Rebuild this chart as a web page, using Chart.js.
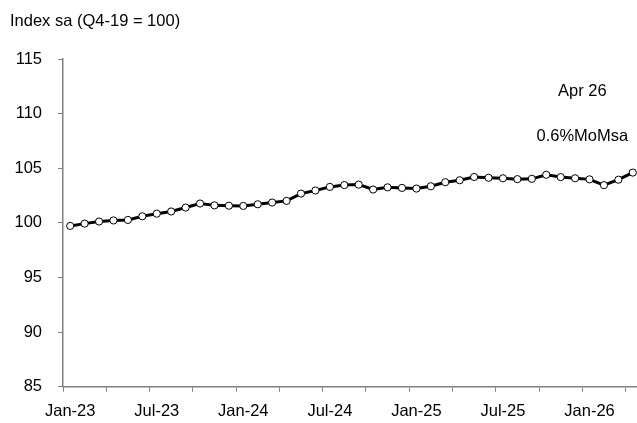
<!DOCTYPE html>
<html>
<head>
<meta charset="utf-8">
<script src="https://cdn.jsdelivr.net/npm/chart.js@4.4.0/dist/chart.umd.min.js"></script>
<style>
  html, body { margin: 0; padding: 0; background: #fff; overflow: hidden; width: 637px; height: 423px; }
  #wrap { position: relative; width: 645px; height: 423px; }
</style>
</head>
<body>
<div id="wrap"><canvas id="c" width="645" height="423"></canvas></div>
<script>
const categories = [
  'Jan-23','Feb-23','Mar-23','Apr-23','May-23','Jun-23','Jul-23','Aug-23','Sep-23','Oct-23','Nov-23','Dec-23',
  'Jan-24','Feb-24','Mar-24','Apr-24','May-24','Jun-24','Jul-24','Aug-24','Sep-24','Oct-24','Nov-24','Dec-24',
  'Jan-25','Feb-25','Mar-25','Apr-25','May-25','Jun-25','Jul-25','Aug-25','Sep-25','Oct-25','Nov-25','Dec-25',
  'Jan-26','Feb-26','Mar-26','Apr-26'
];
const indexValues = [
  99.72, 99.93, 100.12, 100.22, 100.27, 100.60, 100.84, 101.04, 101.40, 101.77, 101.60, 101.57,
  101.55, 101.70, 101.86, 102.01, 102.68, 102.96, 103.29, 103.46, 103.50, 103.05, 103.25, 103.20,
  103.14, 103.35, 103.72, 103.90, 104.20, 104.13, 104.08, 104.00, 104.03, 104.40, 104.19, 104.08,
  103.98, 103.45, 103.95, 104.60
];
const yTicks = [85, 90, 95, 100, 105, 110, 115];
const titleText = 'Index sa (Q4-19 = 100)';
const noteLines = ['Apr 26', '0.6%MoMsa'];
const noteAnchor = { index: 35.5, values: [112.0, 107.9] };

const FONT = '"Liberation Sans", Arial, Helvetica, sans-serif';
const AXIS = '#808080';

const textPlugin = {
  id: 'texts',
  afterDraw(chart) {
    const ctx = chart.ctx;
    const xs = chart.scales.x, ys = chart.scales.y;
    ctx.save();
    ctx.fillStyle = '#000';
    ctx.font = '16.5px ' + FONT;
    ctx.textBaseline = 'middle';
    ctx.textAlign = 'left';
    ctx.fillText(titleText, 10, 21);
    ctx.textAlign = 'center';
    const x = (xs.getPixelForValue(Math.floor(noteAnchor.index)) + xs.getPixelForValue(Math.ceil(noteAnchor.index))) / 2;
    noteLines.forEach((t, i) => {
      ctx.fillText(t, x, ys.getPixelForValue(noteAnchor.values[i]));
    });
    ctx.restore();
  }
};

new Chart(document.getElementById('c'), {
  type: 'line',
  data: {
    labels: categories,
    datasets: [{
      data: indexValues,
      borderColor: '#000',
      borderWidth: 3,
      pointRadius: 3.6,
      pointBorderWidth: 1,
      pointBackgroundColor: '#fff',
      pointBorderColor: '#000',
      tension: 0
    }]
  },
  options: {
    responsive: false,
    animation: false,
    devicePixelRatio: 1,
    layout: { padding: { top: 59, right: 5, left: 0, bottom: 0 } },
    plugins: { legend: { display: false }, tooltip: { enabled: false }, title: { display: false } },
    scales: {
      x: {
        type: 'category',
        offset: true,
        grid: {
          offset: true,
          drawOnChartArea: false,
          drawTicks: true,
          tickLength: 5,
          tickColor: (c) => (c.index !== undefined && c.index % 3 === 0) ? AXIS : 'rgba(0,0,0,0)',
          tickWidth: 1
        },
        border: { display: true, color: AXIS, width: 1.5 },
        ticks: {
          autoSkip: false,
          maxRotation: 0,
          minRotation: 0,
          padding: 10,
          color: '#000',
          font: { family: FONT, size: 16.5 },
          callback: function (v, i) { return i % 6 === 0 ? categories[i] : ''; }
        },
        afterFit(scale) { scale.height = 36.3; }
      },
      y: {
        min: yTicks[0],
        max: yTicks[yTicks.length - 1],
        afterBuildTicks(scale) { scale.ticks = yTicks.map(v => ({ value: v })); },
        grid: { drawOnChartArea: false, drawTicks: true, tickLength: 5, tickColor: AXIS, tickWidth: 1 },
        border: { display: true, color: AXIS, width: 1.5 },
        ticks: {
          padding: 16,
          color: '#000',
          font: { family: FONT, size: 16.5 }
        },
        afterFit(scale) { scale.width = 63; }
      }
    }
  },
  plugins: [textPlugin]
});
</script>
</body>
</html>
